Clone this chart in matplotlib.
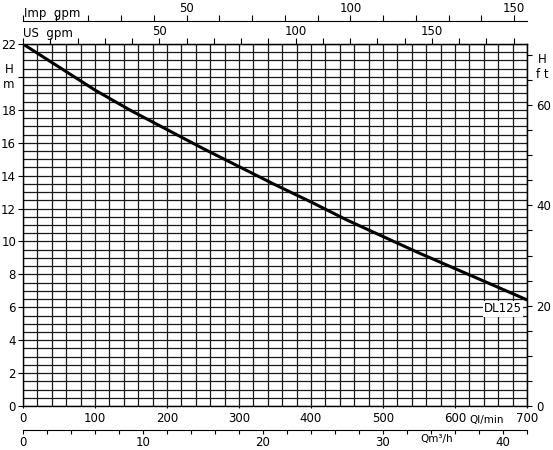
import matplotlib.pyplot as plt
import numpy as np
from matplotlib.ticker import MultipleLocator, FuncFormatter

# pump curve DL125
flow_lpm = [0, 50, 100, 150, 200, 250, 300, 350, 400, 450, 500, 550, 600, 650, 700]
head_m = [22.0, 20.6, 19.2, 17.95, 16.8, 15.65, 14.55, 13.45, 12.4, 11.3, 10.3, 9.3, 8.35, 7.4, 6.45]

LPM_PER_USGPM = 3.78541
LPM_PER_IMPGPM = 4.54609
M_PER_FT = 0.3048

fs = 8.5
fig = plt.figure(figsize=(5.53, 4.5), dpi=100)
W, H = 553, 450
x0, x1, ytop, ybot = 23, 527, 44, 406
ax = fig.add_axes([x0 / W, 1 - ybot / H, (x1 - x0) / W, (ybot - ytop) / H])


def px2lpm(px):
    return (px - x0) * 700 / (x1 - x0)


ax.plot(flow_lpm, head_m, color='black', lw=2.2, zorder=3)
ax.set_xlim(0, 700)
ax.set_ylim(0, 22)

# grid
ax.xaxis.set_minor_locator(MultipleLocator(20))
ax.yaxis.set_minor_locator(MultipleLocator(0.5))
ax.grid(which='both', color='#1a1a1a', lw=0.9)
ax.set_axisbelow(True)

# bottom l/min axis
ax.xaxis.set_major_locator(MultipleLocator(100))
ax.tick_params(axis='x', which='major', length=1.5, labelsize=fs, pad=2.5)
ax.tick_params(axis='x', which='minor', length=0)
ax.tick_params(axis='y', which='minor', length=0)
ax.tick_params(axis='y', which='major', length=3.5, labelsize=fs, pad=1.5)
ax.yaxis.set_major_locator(MultipleLocator(2))
ax.yaxis.set_major_formatter(FuncFormatter(lambda v, p: '' if abs(v - 20) < 1e-6 else '%d' % v))
ax.text(-0.028, 20 / 22, 'H\nm', transform=ax.transAxes, ha='center', va='center',
        fontsize=fs, linespacing=1.2)
ax.text(px2lpm(487), -0.55, 'Ql/min', ha='center', va='top', fontsize=fs - 1)

for s in ax.spines.values():
    s.set_linewidth(1.0)

# right ft axis
ry = ax.secondary_yaxis('right', functions=(lambda m: m / M_PER_FT, lambda f: f * M_PER_FT))
ry.yaxis.set_major_locator(MultipleLocator(5))
ry.yaxis.set_major_formatter(FuncFormatter(lambda v, p: '%d' % v if v % 20 == 0 and v < 65 else ''))
ry.tick_params(length=3.5, labelsize=fs, pad=3)
ax.text(1.03, 67.5 * M_PER_FT / 22, 'H\nf t', transform=ax.transAxes, ha='center', va='center',
        fontsize=fs, linespacing=1.2)

# top US gpm axis
us = ax.secondary_xaxis('top', functions=(lambda q: q / LPM_PER_USGPM, lambda g: g * LPM_PER_USGPM))
us.xaxis.set_major_locator(MultipleLocator(10))
us.xaxis.set_major_formatter(FuncFormatter(lambda v, p: '%d' % v if v % 50 == 0 and v > 0 else ''))
us.tick_params(length=4.3, labelsize=fs, pad=0)
ax.text(0.0, 1.012, 'US  gpm', transform=ax.transAxes, ha='left', va='bottom', fontsize=fs)

# top Imp gpm axis
ypos_imp = (ybot - 21) / (ybot - ytop)
imp = ax.secondary_xaxis(ypos_imp, functions=(lambda q: q / LPM_PER_IMPGPM, lambda g: g * LPM_PER_IMPGPM))
imp.xaxis.set_major_locator(MultipleLocator(10))
imp.xaxis.set_major_formatter(FuncFormatter(lambda v, p: '%d' % v if v % 50 == 0 and v > 0 else ''))
imp.tick_params(length=4.3, labelsize=fs, pad=0)
ax.text(0.002, ypos_imp + 0.004, 'Imp  gpm', transform=ax.transAxes, ha='left', va='bottom', fontsize=fs)

# bottom m3/h axis
ypos_m3 = (ybot - 430) / (ybot - ytop)
m3 = ax.secondary_xaxis(ypos_m3, functions=(lambda q: q * 0.06, lambda c: c / 0.06))
m3.xaxis.set_major_locator(MultipleLocator(2))
m3.xaxis.set_major_formatter(FuncFormatter(lambda v, p: '%d' % v if v % 10 == 0 else ''))
m3.tick_params(length=3, labelsize=fs, pad=1.5)
ax.text(px2lpm(437), ypos_m3 - 0.012, 'Qm³/h', transform=ax.get_xaxis_transform(), ha='center', va='top',
        fontsize=fs - 1)

# curve label
ax.text(px2lpm(503), 5.9, 'DL125', ha='center', va='center', fontsize=fs, zorder=4,
        bbox=dict(facecolor='white', edgecolor='none', pad=1.0))

fig.savefig('out.png', dpi=100)
